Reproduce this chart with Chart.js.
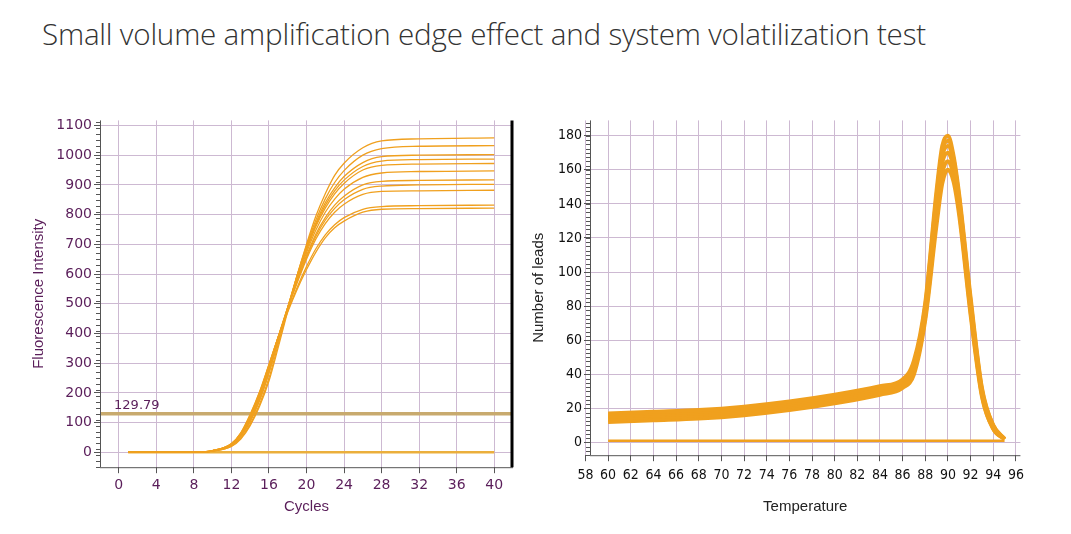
<!DOCTYPE html>
<html>
<head>
<meta charset="utf-8">
<script src="https://cdn.jsdelivr.net/npm/chart.js@4"></script>
<style>
  body { margin: 0; background: #fff; width: 1071px; height: 534px; position: relative; overflow: hidden; }
  h1 { position: absolute; left: 42px; top: 13px; margin: 0; font: 300 29.6px 'Open Sans', sans-serif; color: #333; letter-spacing: -0.2px; }
  .box { position: absolute; }
</style>
</head>
<body>
<h1>Small volume amplification edge effect and system volatilization test</h1>
<div class="box" style="left:30px;top:110px;width:490px;height:410px"><canvas id="ampChart"></canvas></div>
<div class="box" style="left:530px;top:110px;width:500px;height:410px"><canvas id="meltChart"></canvas></div>
<script>
// Amplification curves (cycle, fluorescence)
const ampCycles = [1, 8, 10, 12, 13, 14, 15, 16, 17, 18, 19, 20, 21, 22, 23, 24, 26, 28, 32, 40];
const ampSeries = [
  [0, 0, 4, 20, 45, 90, 155, 240, 355, 475, 595, 700, 795, 870, 932, 973, 1025, 1048, 1055, 1058],
  [0, 0, 4, 21, 48, 95, 162, 250, 365, 480, 595, 695, 782, 853, 908, 948, 1000, 1022, 1030, 1032],
  [0, 0, 5, 24, 54, 104, 175, 268, 378, 488, 595, 690, 772, 840, 890, 928, 975, 995, 1000, 1002],
  [0, 0, 5, 24, 54, 105, 176, 269, 378, 487, 592, 685, 766, 831, 880, 916, 962, 980, 985, 987],
  [0, 0, 5, 25, 55, 106, 177, 270, 378, 485, 590, 680, 760, 822, 870, 905, 950, 966, 970, 972],
  [0, 0, 5, 26, 58, 112, 185, 280, 385, 488, 585, 672, 748, 808, 852, 885, 925, 940, 945, 947],
  [0, 0, 5, 27, 60, 116, 190, 285, 388, 488, 580, 662, 735, 790, 832, 862, 900, 912, 915, 917],
  [0, 0, 6, 28, 62, 120, 195, 290, 390, 486, 575, 656, 727, 781, 821, 850, 885, 896, 900, 902],
  [0, 0, 6, 28, 63, 122, 197, 292, 390, 484, 570, 650, 718, 770, 808, 835, 868, 878, 880, 882],
  [0, 0, 6, 29, 65, 126, 202, 295, 390, 476, 555, 625, 685, 732, 766, 790, 818, 827, 830, 832],
  [0, 0, 6, 30, 66, 128, 204, 296, 388, 472, 548, 615, 674, 722, 756, 778, 808, 818, 820, 822]
];
const threshold = 129.79;
const ampBaseline = [[1, 0], [40, 0]];
const ampXTicks = [0, 4, 8, 12, 16, 20, 24, 28, 32, 36, 40];
const ampYTicks = [0, 100, 200, 300, 400, 500, 600, 700, 800, 900, 1000, 1100];

// Melt curves (temperature, value)
const meltTemps = [60, 64, 68, 72, 76, 80, 84, 86, 87, 88, 89, 89.5, 90, 90.5, 91, 92, 93, 94, 95];
const meltSeries = [
  [17, 18, 19, 21, 24, 28, 33, 37, 48, 82, 148, 174, 180, 168, 145, 85, 32, 10, 2],
  [16, 17, 18, 20, 23, 27, 32, 36, 46, 80, 145, 171, 177, 166, 143, 83, 31, 10, 2],
  [15, 16, 17, 19, 22, 26, 31, 35, 45, 78, 142, 168, 174, 164, 141, 81, 30, 9, 2],
  [14, 15, 16, 18, 21, 25, 30, 34, 44, 76, 138, 164, 170, 161, 139, 79, 29, 9, 2],
  [13, 14, 15, 17, 20, 24, 29, 33, 42, 74, 133, 158, 165, 157, 136, 77, 28, 8, 2],
  [12, 13, 14, 16, 19, 23, 28, 32, 40, 72, 128, 152, 160, 153, 133, 75, 27, 8, 2]
];
const meltBaseline = [[60, 1], [95, 1]];
const meltXTicks = [58, 60, 62, 64, 66, 68, 70, 72, 74, 76, 78, 80, 82, 84, 86, 88, 90, 92, 94, 96];
const meltYTicks = [0, 20, 40, 60, 80, 100, 120, 140, 160, 180];

const ORANGE = 'rgb(240, 160, 30)';
const GRID = 'rgb(205, 185, 210)';
const PURPLE = 'rgb(90, 30, 90)';

function toPts(xs, ys) { return xs.map((x, i) => ({ x: x, y: ys[i] })); }

function fixTicks(list) {
  return scale => { scale.ticks = list.map(v => ({ value: v })); };
}

// minor ticks along the y axis + optional right border
function axisDecor(minorStep, rightBorder, labelText) {
  return {
    id: 'decor',
    afterDraw(chart) {
      const ctx = chart.ctx, y = chart.scales.y, a = chart.chartArea;
      ctx.save();
      ctx.strokeStyle = '#555';
      ctx.lineWidth = 1;
      for (let v = y.min; v <= y.max; v += minorStep) {
        const py = Math.round(y.getPixelForValue(v)) + 0.5;
        ctx.beginPath(); ctx.moveTo(a.left - 4, py); ctx.lineTo(a.left, py); ctx.stroke();
      }
      ctx.beginPath(); ctx.moveTo(a.left + 0.5, a.top); ctx.lineTo(a.left + 0.5, a.bottom); ctx.stroke();
      ctx.beginPath(); ctx.moveTo(a.left, a.bottom + 0.5); ctx.lineTo(a.right, a.bottom + 0.5); ctx.stroke();
      if (rightBorder) {
        ctx.strokeStyle = '#000'; ctx.lineWidth = 3;
        ctx.beginPath(); ctx.moveTo(a.right - 1, a.top); ctx.lineTo(a.right - 1, a.bottom); ctx.stroke();
      }
      if (labelText) {
        ctx.fillStyle = PURPLE;
        ctx.font = '13px "DejaVu Sans", sans-serif';
        ctx.fillText(labelText, chart.scales.x.getPixelForValue(-0.5), y.getPixelForValue(threshold) - 5);
      }
      ctx.restore();
    }
  };
}

function lineSet(data, color, width) {
  return { data: data, borderColor: color, borderWidth: width, pointRadius: 0, tension: 0.4, cubicInterpolationMode: 'monotone', fill: false };
}

const plainLabel = v => String(v);

// Amplification chart
const ampDatasets = ampSeries.map(s => lineSet(toPts(ampCycles, s), ORANGE, 1.3));
ampDatasets.push(lineSet(ampBaseline.map(p => ({ x: p[0], y: p[1] })), 'rgb(235,175,60)', 2.5));
ampDatasets.push(lineSet([{ x: -2, y: threshold }, { x: 42, y: threshold }], 'rgb(200,170,110)', 3.5));

new Chart(document.getElementById('ampChart'), {
  type: 'line',
  data: { datasets: ampDatasets },
  options: {
    responsive: true, maintainAspectRatio: false, animation: false,
    layout: { padding: { top: 8, right: 7, left: 0, bottom: 0 } },
    plugins: { legend: { display: false }, tooltip: { enabled: false } },
    scales: {
      x: {
        type: 'linear', min: -2, max: 42, afterBuildTicks: fixTicks(ampXTicks),
        grid: { color: GRID, tickLength: 6, tickColor: '#555' }, border: { display: false },
        ticks: { color: PURPLE, font: { family: 'DejaVu Sans', size: 14 }, padding: 4, maxRotation: 0, callback: plainLabel },
        title: { display: true, text: 'Cycles', color: PURPLE, font: { family: 'Liberation Sans', size: 15 }, padding: { top: 0 } }
      },
      y: {
        min: -50, max: 1117, afterBuildTicks: fixTicks(ampYTicks),
        afterFit: s => { s.width = 70; },
        grid: { color: GRID, tickLength: 6, tickColor: '#555' }, border: { display: false },
        ticks: { color: PURPLE, font: { family: 'DejaVu Sans', size: 14 }, padding: 2, callback: plainLabel },
        title: { display: true, text: 'Fluorescence Intensity', color: PURPLE, font: { family: 'Liberation Sans', size: 15 }, padding: 0 }
      }
    }
  },
  plugins: [axisDecor(20, true, '129.79')]
});

// Melt chart
const meltDatasets = meltSeries.map(s => lineSet(toPts(meltTemps, s), ORANGE, 4));
meltDatasets.push(lineSet(meltBaseline.map(p => ({ x: p[0], y: p[1] })), ORANGE, 2.5));

new Chart(document.getElementById('meltChart'), {
  type: 'line',
  data: { datasets: meltDatasets },
  options: {
    responsive: true, maintainAspectRatio: false, animation: false,
    layout: { padding: { top: 6, right: 9, left: 0, bottom: 0 } },
    plugins: { legend: { display: false }, tooltip: { enabled: false } },
    scales: {
      x: {
        type: 'linear', min: 58.4, max: 96.4, afterBuildTicks: fixTicks(meltXTicks),
        grid: { color: GRID, tickLength: 6, tickColor: '#555' }, border: { display: false },
        ticks: { color: '#111', font: { family: 'DejaVu Sans Condensed', size: 14 }, padding: 6, maxRotation: 0, autoSkip: false, callback: plainLabel },
        title: { display: true, text: 'Temperature', color: '#222', font: { family: 'Liberation Sans', size: 15 }, padding: { top: 8 } }
      },
      y: {
        min: -7.5, max: 189, afterBuildTicks: fixTicks(meltYTicks),
        afterFit: s => { s.width = 60; },
        grid: { color: GRID, tickLength: 6, tickColor: '#555' }, border: { display: false },
        ticks: { color: '#111', font: { family: 'DejaVu Sans Condensed', size: 14 }, padding: 2, callback: plainLabel },
        title: { display: true, text: 'Number of leads', color: '#222', font: { family: 'Liberation Sans', size: 15 }, padding: 0 }
      }
    }
  },
  plugins: [axisDecor(2.5, false, null)]
});
</script>
</body>
</html>
